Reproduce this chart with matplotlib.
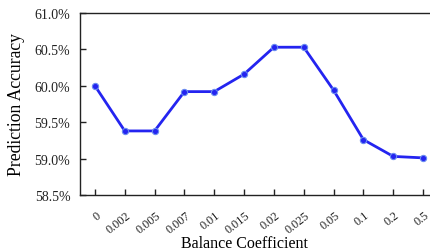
import matplotlib
matplotlib.use("Agg")
import matplotlib.pyplot as plt
import matplotlib.transforms as mtransforms
from matplotlib.ticker import FuncFormatter

categories = ["0", "0.002", "0.005", "0.007", "0.01", "0.015", "0.02", "0.025", "0.05", "0.1", "0.2", "0.5"]
accuracy = [60.00, 59.38, 59.38, 59.92, 59.92, 60.16, 60.53, 60.53, 59.94, 59.26, 59.03, 59.01]
yticks = [58.5, 59.0, 59.5, 60.0, 60.5, 61.0]

plt.rcParams['font.family'] = ['Liberation Serif', 'DejaVu Serif']

fig = plt.figure(figsize=(4.30, 2.51), dpi=100)
ax = fig.add_axes([80/430, 1-196/251, 358/430, 182/251])
x = list(range(len(categories)))
ax.plot(x, accuracy, color='#2424f0', lw=2.0, marker='o', ms=4.5,
        markerfacecolor='#2424f0', markeredgecolor='#6a8cf0', markeredgewidth=0.8)
ax.set_xlim(-0.5, len(categories) - 0.5)
ax.set_ylim(58.5, 61.0)
ax.set_yticks(yticks)
ax.yaxis.set_major_formatter(FuncFormatter(lambda v, p: f"{v:.1f}%"))
ax.set_xticks(x)
ax.set_xticklabels(categories, rotation=38, ha='right', va='top', rotation_mode='anchor')
ax.tick_params(axis='both', direction='in', length=4, width=1, labelsize=10, colors='#222222')
ax.tick_params(axis='x', labelsize=8.8, pad=10)
ax.tick_params(axis='y', pad=7)
offset = mtransforms.ScaledTranslation(1/100, 0, fig.dpi_scale_trans)
for lbl in ax.get_xticklabels():
    lbl.set_transform(lbl.get_transform() + offset)
for s in ['top', 'left', 'bottom', 'right']:
    ax.spines[s].set_linewidth(1.0)
    ax.spines[s].set_color('#222222')
ax.set_ylabel('Prediction Accuracy', fontsize=12.7)
ax.yaxis.set_label_coords(-55/358, 0.5)
ax.set_xlabel('Balance Coefficient', fontsize=11.5)
ax.xaxis.set_label_coords((244 - 80) / 358, -40/182)
fig.savefig('out.png', dpi=100)
